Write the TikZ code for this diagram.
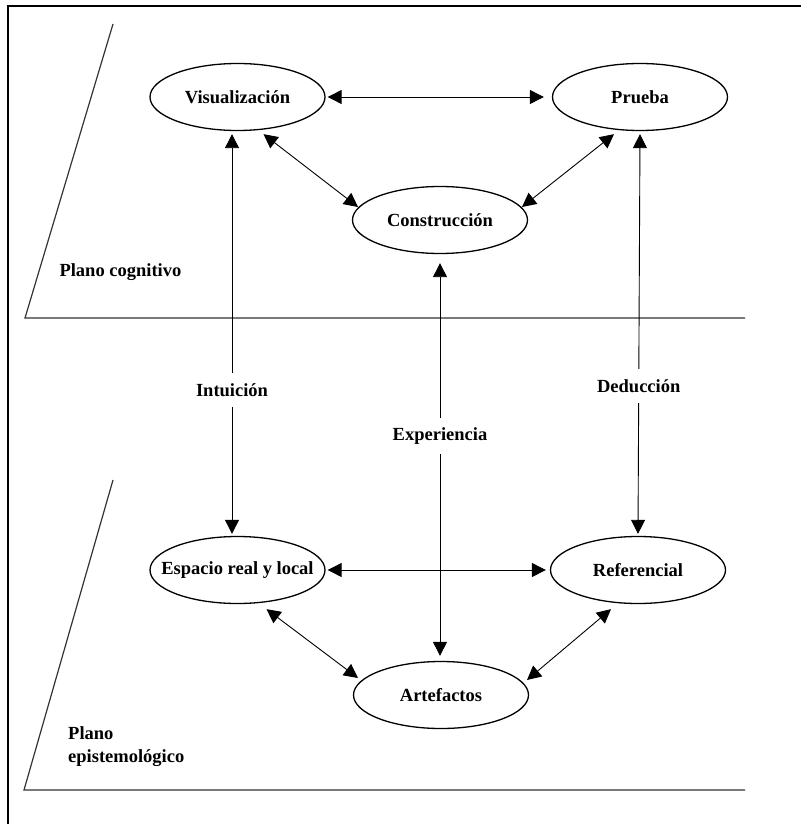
\documentclass[tikz,border=0pt]{standalone}
\usepackage{fontspec}
\setmainfont{Liberation Serif}
\usetikzlibrary{arrows.meta,shapes.geometric}
\newcommand\ovtext[1]{\makebox[0pt]{#1}}
\begin{document}
\begin{tikzpicture}[x=1pt,y=-1pt,
  every node/.style={font=\bfseries\fontsize{18.5}{21}\selectfont, text=black},
  oval/.style={draw, ellipse, line width=1.3pt, minimum width=175pt, minimum height=67pt, inner sep=0pt},
  link/.style={line width=0.9pt, {Triangle[length=14pt,width=14pt]}-{Triangle[length=14pt,width=14pt]}},
  lab/.style={fill=white, inner sep=10pt},
  plane/.style={line width=1.2pt, black!80}]
\useasboundingbox (0,0) rectangle (801,824);
% frame
\draw[line width=1.4pt] (8,824) -- (8,6) -- (801,6);
% planes
\draw[plane] (113,24) -- (25,318) -- (745,318);
\draw[plane] (113,480) -- (24,790) -- (745,790);
\node[anchor=west] (pc) at (56,272) {Plano cognitivo};
\node[anchor=west, align=left, inner sep=0pt] (pe) at (68,747) {Plano\\[2pt]epistemológico};
% nodes
\node[oval] (vis) at (237.5,97) {\ovtext{Visualización}};
\node[oval] (prueba) at (640,97) {\ovtext{Prueba}};
\node[oval] (constr) at (440,220) {\ovtext{Construcción}};
\node[oval] (esp) at (237.5,570) {\ovtext{Espacio real y local}};
\node[oval] (ref) at (638,570) {\ovtext{Referencial}};
\node[oval] (art) at (441,695) {\ovtext{Artefactos}};
% connectors
\draw[link] ([xshift=2]vis.east) -- ([xshift=-8]prueba.west);
\draw[link] ([shift={(26,3)}]vis.south) -- ([shift={(-82,-13)}]constr.center);
\draw[link] ([shift={(-26,3)}]prueba.south) -- ([shift={(82,-13)}]constr.center);
\draw[link] ([shift={(-5.5,3)}]vis.south) -- node[lab, pos=0.64] {Intuición} ([shift={(-5.5,-2)}]esp.north);
\draw[link] ([shift={(0,3)}]prueba.south) -- node[lab, pos=0.63] {Deducción} ([shift={(0,-2)}]ref.north);
\draw[link] ([shift={(0,9)}]constr.south) -- node[lab, pos=0.44] {Experiencia} ([shift={(-1,-5)}]art.north);
\draw[link] ([xshift=2]esp.east) -- ([xshift=-4]ref.west);
\draw[link] ([shift={(29,5)}]esp.south) -- ([shift={(-83,-17)}]art.center);
\draw[link] ([shift={(-27,5)}]ref.south) -- ([shift={(86,-15)}]art.center);
\end{tikzpicture}
\end{document}
